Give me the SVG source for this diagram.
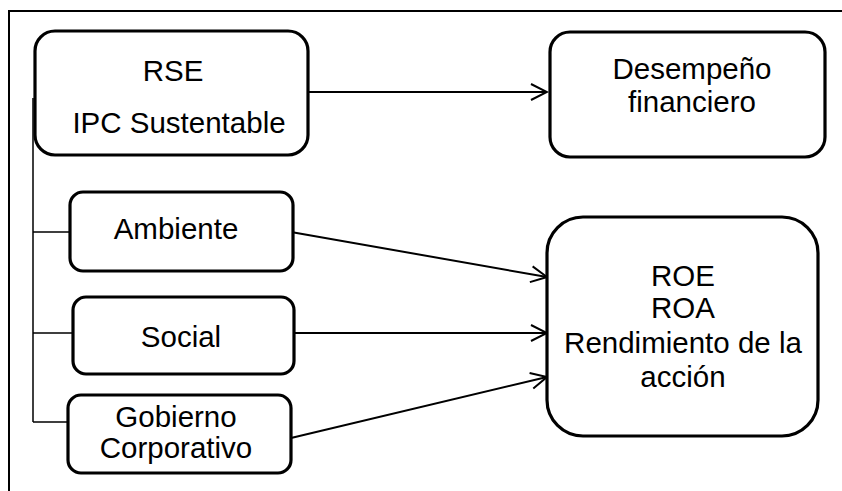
<svg xmlns="http://www.w3.org/2000/svg" width="842" height="491" viewBox="0 0 842 491">
<defs>
<style>
.box{fill:#fff;stroke:#000;stroke-width:3.2}
.ln{fill:none;stroke:#000;stroke-width:2}
.thin{fill:none;stroke:#000;stroke-width:1.5}
text{font-family:"Liberation Sans",Arial,sans-serif;font-size:29.5px;fill:#000;text-anchor:middle}
</style>
<marker id="ah" viewBox="0 0 20 20" refX="18" refY="10" markerWidth="20" markerHeight="20" markerUnits="userSpaceOnUse" orient="auto">
<path d="M2,2 L18,10 L2,18" fill="none" stroke="#000" stroke-width="2"/>
</marker>
</defs>
<rect width="842" height="491" fill="#fff"/>
<g id="frame">
<path class="ln" d="M9,491 V11 H842"/>
</g>
<g id="connectors">
<path class="thin" d="M33,98 V422 M33,232 H70 M33,333 H73 M33,422 H68"/>
<line class="ln" x1="308" y1="92" x2="547" y2="92" marker-end="url(#ah)"/>
<line class="ln" x1="291" y1="232" x2="547" y2="277" marker-end="url(#ah)"/>
<line class="ln" x1="294" y1="333" x2="547" y2="333" marker-end="url(#ah)"/>
<line class="ln" x1="291" y1="438" x2="547" y2="377" marker-end="url(#ah)"/>
</g>
<g id="rse">
<rect class="box" x="35" y="31" width="273" height="124" rx="20"/>
<text x="173" y="81">RSE</text>
<text x="179" y="133">IPC Sustentable</text>
</g>
<g id="desempeno">
<rect class="box" x="550" y="32" width="275" height="125" rx="20"/>
<text x="692" y="79">Desempeño</text>
<text x="692" y="112">financiero</text>
</g>
<g id="ambiente">
<rect class="box" x="70" y="192" width="223" height="79" rx="13"/>
<text x="176" y="239">Ambiente</text>
</g>
<g id="social">
<rect class="box" x="73" y="297" width="221" height="77" rx="13"/>
<text x="181" y="347">Social</text>
</g>
<g id="gobierno">
<rect class="box" x="68" y="395" width="223" height="78" rx="13"/>
<text x="176" y="427">Gobierno</text>
<text x="176" y="458">Corporativo</text>
</g>
<g id="roe">
<rect class="box" x="547" y="217" width="271" height="219" rx="36"/>
<text x="683" y="286">ROE</text>
<text x="683" y="318">ROA</text>
<text x="683" y="353">Rendimiento de la</text>
<text x="683" y="387">acción</text>
</g>
</svg>
